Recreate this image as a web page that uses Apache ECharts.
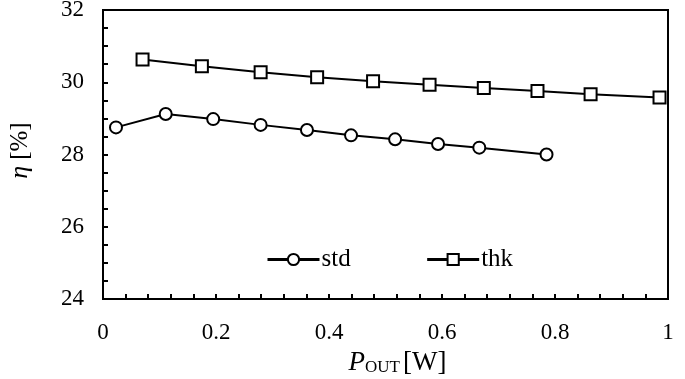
<!DOCTYPE html>
<html><head><meta charset="utf-8">
<script src="https://cdn.jsdelivr.net/npm/echarts@6/dist/echarts.min.js"></script>
<style>html,body{margin:0;padding:0;background:#fff}#c{width:685px;height:379px}</style>
</head><body><div id="c"></div>
<script>
var stdX = [0.023, 0.111, 0.195, 0.279, 0.361, 0.439, 0.517, 0.593, 0.666, 0.785];
var stdY = [28.75, 29.12, 28.98, 28.82, 28.68, 28.53, 28.42, 28.29, 28.19, 28.0];
var thkX = [0.070, 0.175, 0.279, 0.379, 0.478, 0.578, 0.674, 0.769, 0.863, 0.985];
var thkY = [30.63, 30.44, 30.28, 30.14, 30.03, 29.93, 29.84, 29.76, 29.67, 29.58];
var seriesNames = ['std', 'thk'];
var xTicks = {min: 0, max: 1, interval: 0.2};
var yTicks = {min: 24, max: 32, interval: 2};

function pairs(xs, ys) { return xs.map(function (x, i) { return [x, ys[i]]; }); }
var FONT = '"Liberation Serif", "Times New Roman", serif';
var chart = echarts.init(document.getElementById('c'), null, {renderer: 'canvas'});
chart.setOption({
  animation: false,
  textStyle: {fontFamily: FONT, color: '#000'},
  grid: {left: 103, right: 17, top: 10, bottom: 80, containLabel: false, outerBoundsMode: 'none',
         show: true, borderColor: '#000', borderWidth: 2, backgroundColor: 'transparent'},
  legend: {
    left: 261, top: 242, itemWidth: 52, itemHeight: 14, itemGap: 75,
    lineStyle: {width: 3, color: '#000'},
    itemStyle: {borderWidth: 2, borderColor: '#000', color: '#fff'},
    textStyle: {fontFamily: FONT, fontSize: 25, color: '#000', padding: [0, 0, 2, -3]},
    data: seriesNames
  },
  xAxis: {
    type: 'value', min: xTicks.min, max: xTicks.max, interval: xTicks.interval,
    axisLine: {show: true, lineStyle: {color: '#000', width: 2}},
    axisTick: {show: true, inside: true, length: 5, lineStyle: {color: '#000', width: 2}},
    minorTick: {show: true, splitNumber: 5, length: 5, lineStyle: {color: '#000', width: 2}},
    splitLine: {show: false},
    axisLabel: {fontFamily: FONT, fontSize: 23, color: '#000', margin: 22},
    name: '{i|P}{s|OUT} {n|[W]}', nameLocation: 'middle', nameGap: 50,
    nameTextStyle: {padding: [0, 0, 0, 24], rich: {
      i: {fontFamily: FONT, fontStyle: 'italic', fontSize: 27, color: '#000'},
      s: {fontFamily: FONT, fontSize: 17, color: '#000', padding: [10, 0, 0, 0]},
      n: {fontFamily: FONT, fontSize: 27, color: '#000'}
    }}
  },
  yAxis: {
    type: 'value', min: yTicks.min, max: yTicks.max, interval: yTicks.interval,
    axisLine: {show: true, lineStyle: {color: '#000', width: 2}},
    axisTick: {show: true, inside: true, length: 5, lineStyle: {color: '#000', width: 2}},
    minorTick: {show: true, splitNumber: 4, length: 5, lineStyle: {color: '#000', width: 2}},
    splitLine: {show: false},
    axisLabel: {fontFamily: FONT, fontSize: 23, color: '#000', margin: 19},
    name: '{i|η}  {n|[%]}', nameLocation: 'middle', nameGap: 70, nameRotate: 90,
    nameTextStyle: {padding: [0, 0, 0, 8], rich: {
      i: {fontFamily: FONT, fontStyle: 'italic', fontSize: 26, color: '#000'},
      n: {fontFamily: FONT, fontSize: 25, color: '#000'}
    }}
  },
  series: [
    {name: seriesNames[0], type: 'line', data: pairs(stdX, stdY), symbol: 'circle', symbolSize: 12,
     lineStyle: {color: '#000', width: 2}, itemStyle: {color: '#fff', borderColor: '#000', borderWidth: 2}},
    {name: seriesNames[1], type: 'line', data: pairs(thkX, thkY), symbol: 'rect', symbolSize: 12,
     lineStyle: {color: '#000', width: 2}, itemStyle: {color: '#fff', borderColor: '#000', borderWidth: 2}}
  ]
});
</script></body></html>
